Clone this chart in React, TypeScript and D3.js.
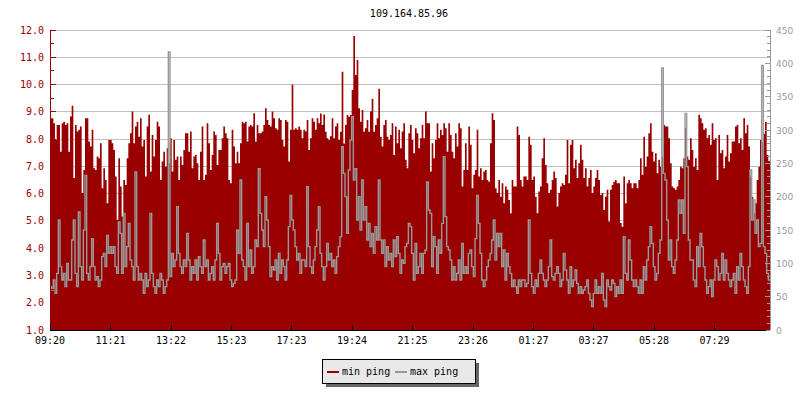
import * as d3 from 'd3';

// ping samples, oldest first (ms)
const minPing: number[] = [
  8.76, 8.76, 8.58, 7.97, 8.52, 8.52, 7.54, 8.58, 8.64, 8.52,
  8.58, 7.54, 8.83, 9.22, 6.57, 8.52, 8.28, 8.34, 8.46, 6.02,
  6.87, 8.76, 8.76, 7.91, 7.73, 8.34, 6.93, 6.87, 7.36, 7.30,
  7.85, 6.20, 6.93, 6.50, 5.65, 7.97, 7.97, 7.85, 7.60, 6.63,
  5.04, 7.30, 6.26, 5.16, 6.50, 6.32, 7.30, 7.85, 8.21, 9.01,
  7.85, 8.46, 8.64, 8.09, 8.76, 7.73, 7.97, 6.63, 8.46, 8.89,
  6.81, 8.15, 7.36, 7.97, 8.64, 8.46, 6.50, 7.18, 7.54, 6.99,
  7.66, 7.11, 8.03, 6.81, 7.97, 7.24, 7.36, 6.50, 7.36, 7.05,
  7.60, 8.21, 8.21, 7.54, 8.28, 6.93, 7.36, 7.42, 7.11, 6.50,
  7.54, 8.46, 6.50, 6.69, 8.58, 7.85, 6.87, 7.42, 8.28, 8.15,
  7.05, 7.60, 7.60, 8.03, 8.46, 8.21, 8.03, 6.50,
  6.38, 8.34, 7.73, 7.11, 7.54, 7.11, 7.85, 8.64, 8.58, 8.64,
  7.91, 8.46, 8.52, 8.46, 8.95, 7.91, 8.52, 8.21, 8.21, 8.28,
  8.52, 9.13, 8.70, 8.52, 8.46, 9.01, 8.76, 8.40, 8.34, 8.76,
  8.70, 7.97, 7.73, 8.70, 8.64, 7.18, 8.34, 9.99, 8.34, 8.40,
  8.34, 8.46, 8.34, 8.03, 8.34, 8.28, 8.70, 7.60, 8.03, 8.76,
  8.64, 8.34, 8.76, 8.58, 8.94, 8.52, 8.90, 8.27, 8.03, 7.97,
  8.10, 8.76, 8.03, 8.46, 8.58, 7.97, 8.27, 10.47, 7.84, 8.52,
  8.88, 8.82, 8.88, 9.80, 11.78, 10.35, 10.90, 9.13, 8.64, 9.07,
  8.27, 8.40, 8.70, 8.27, 9.01, 9.47, 8.27, 8.52, 8.76, 9.85,
  8.09, 7.73, 8.52, 8.70, 8.09, 7.97, 8.15, 8.58, 7.42, 8.46,
  7.85, 8.34, 7.66, 8.28, 8.58, 7.24, 6.93, 8.21,
  8.52, 7.97, 7.48, 8.40, 8.21, 7.66, 8.03, 8.52, 8.03, 9.01,
  8.58, 8.58, 6.81, 7.85, 7.30, 7.97, 8.58, 8.03, 8.34, 8.15,
  8.58, 8.40, 7.54, 8.58, 8.15, 7.54, 7.30, 8.21, 7.73, 8.58,
  8.40, 6.26, 6.87, 7.85, 6.87, 8.46, 7.79, 6.20, 6.69, 6.87,
  8.34, 6.63, 6.93, 6.50, 6.81, 6.87, 6.50, 6.44, 7.85, 8.95,
  8.70, 6.20, 6.02, 6.50, 5.89, 6.38, 5.65, 6.26, 6.14, 5.77,
  5.28, 6.50, 6.26, 6.26, 8.46, 8.15, 6.50, 6.26, 6.63, 6.63,
  6.50, 8.09, 7.79, 6.50, 6.63, 5.89, 5.28, 6.08, 6.26, 7.30,
  8.03, 7.05, 6.38, 6.02, 6.14, 6.50, 6.81, 6.57, 5.53, 6.02,
  6.26, 6.38, 6.32, 6.69, 7.97, 6.38, 7.79, 7.97, 6.93, 7.24,
  6.57, 7.11, 7.79, 7.24, 6.57, 6.93, 6.26, 6.57,
  6.87, 6.02, 6.26, 6.57, 6.87, 6.50, 5.95, 6.02, 5.40, 5.89,
  6.14, 4.98, 6.14, 6.32, 6.44, 6.50, 6.38, 6.38, 4.92, 4.79,
  6.63, 5.65, 6.38, 6.50, 6.38, 6.20, 6.38, 6.38, 6.20, 6.50,
  7.30, 6.69, 8.09, 6.99, 7.36, 8.21, 8.58, 7.54, 7.18, 7.48,
  6.75, 7.24, 6.99, 7.36, 8.52, 8.46, 8.46, 8.03, 7.11, 6.26,
  6.20, 6.14, 6.26, 6.50, 6.99, 6.93, 7.30, 8.40, 7.36, 7.24,
  8.03, 7.60, 6.99, 7.30, 6.87, 8.89, 8.76, 8.58, 8.34, 8.40,
  8.03, 8.15, 7.79, 8.58, 7.97, 8.03, 6.50, 8.15, 7.48, 7.60,
  6.93, 7.36, 8.15, 7.18, 7.48, 7.91, 7.91, 8.46, 8.52, 7.85,
  8.03, 7.60, 8.76, 8.21, 8.52, 7.73, 6.63, 5.89, 5.28, 5.65,
  6.50, 6.99, 7.97, 7.90, 8.20, 8.63, 7.42, 7.20
];

const maxPing: number[] = [
  65, 60, 75, 55, 85, 165, 95, 75, 85, 65,
  100, 75, 75, 135, 165, 85, 65, 177, 95, 75,
  150, 232, 85, 75, 95, 137, 95, 75, 80, 65,
  75, 110, 115, 95, 142, 115, 125, 115, 125, 95,
  85, 162, 145, 85, 175, 95, 125, 160, 105, 95,
  75, 237, 95, 75, 85, 75, 55, 85, 65, 75,
  175, 85, 65, 55, 75, 65, 85, 75, 55, 65,
  75, 417, 80, 115, 95, 105, 185, 115, 95, 85,
  105, 95, 145, 105, 75, 95, 85, 105, 75, 110,
  95, 85, 135, 95, 105, 75, 85, 95, 75, 105,
  160, 115, 75, 95, 100, 85, 95, 100,
  75, 65, 70, 75, 150, 115, 225, 105, 95, 75,
  160, 95, 120, 85, 95, 135, 125, 242, 175, 150,
  125, 200, 165, 125, 80, 95, 90, 105, 75, 115,
  85, 105, 95, 75, 105, 155, 202, 165, 150, 125,
  105, 115, 85, 105, 105, 95, 215, 125, 95, 85,
  105, 125, 150, 185, 115, 95, 75, 95, 130, 105,
  115, 95, 105, 85, 110, 125, 140, 275, 235, 200,
  145, 240, 285, 320, 225, 242, 165, 200, 150, 225,
  165, 185, 135, 160, 125, 145, 115, 155, 135, 225,
  135, 115, 135, 95, 125, 105, 115, 95, 135, 110,
  140, 115, 85, 105, 100, 125, 130, 160,
  155, 115, 75, 130, 85, 95, 115, 85, 115, 120,
  222, 180, 175, 95, 140, 125, 85, 135, 115, 160,
  260, 170, 125, 120, 105, 75, 95, 75, 85, 105,
  75, 130, 85, 95, 85, 115, 120, 95, 80, 137,
  202, 160, 115, 75, 65, 75, 95, 105, 115, 135,
  165, 105, 145, 125, 145, 95, 120, 75, 115, 95,
  85, 65, 75, 65, 55, 75, 65, 75, 75, 65,
  70, 165, 85, 65, 55, 75, 65, 85, 105, 85,
  75, 65, 75, 95, 135, 80, 75, 85, 95, 85,
  65, 75, 115, 90, 75, 55, 95, 65, 75, 90,
  70, 55, 65, 55, 60, 65, 75, 55,
  45, 35, 55, 75, 55, 65, 55, 85, 45, 35,
  75, 65, 60, 75, 70, 50, 65, 55, 75, 55,
  140, 85, 75, 135, 105, 75, 65, 75, 65, 55,
  75, 55, 95, 75, 105, 125, 155, 130, 95, 75,
  85, 115, 135, 393, 235, 225, 165, 105, 135, 95,
  85, 105, 135, 195, 175, 195, 145, 325, 245, 135,
  105, 105, 75, 65, 125, 95, 145, 125, 95, 75,
  55, 65, 75, 50, 75, 105, 95, 75, 85, 115,
  75, 105, 85, 75, 65, 75, 85, 55, 95, 75,
  115, 95, 75, 65, 55, 95, 240, 165, 195, 145,
  165, 125, 130, 397, 125, 115, 85, 75
];

const timeLabels = ['09:20', '11:21', '13:22', '15:23', '17:23', '19:24', '21:25', '23:26', '01:27', '03:27', '05:28', '07:29'];
const title = '109.164.85.96';
const seriesNames = ['min ping', 'max ping'];

const RED = '#990000';
const GREY = '#999999';
const MONO = '"DejaVu Sans Mono", monospace';

export default function App(): JSX.Element {
  const left = 50;
  const right = 770;
  const top = 30;
  const bottom = 330;
  const n = minPing.length;

  const x = d3.scaleLinear().domain([0, n]).range([left, right]);
  const yL = d3.scaleLinear().domain([1, 12]).range([bottom, top]);
  const yR = d3.scaleLinear().domain([0, 450]).range([bottom, top]);
  const t = d3.scaleLinear().domain([0, 1440]).range([left, right]);

  const start = 9 * 60 + 20;
  const tickMinutes = timeLabels.map((s) => {
    const [h, m] = s.split(':').map(Number);
    return (h * 60 + m - start + 1440) % 1440;
  });

  const minPts = [...minPing, minPing[n - 1]];
  const maxPts = [...maxPing, maxPing[n - 1]];

  const area = d3
    .area<number>()
    .x((_, i) => x(i))
    .y0(yL(1))
    .y1((d) => yL(d))
    .curve(d3.curveStepAfter);

  const line = d3
    .line<number>()
    .x((_, i) => x(i))
    .y((d) => yR(d))
    .curve(d3.curveStepAfter);

  const majorL = yL.ticks(11);
  const minorL = d3.range(1, 12.01, 0.5);
  const ticksR = d3.range(0, 451, 10);

  return (
    <svg
      xmlns="http://www.w3.org/2000/svg"
      width={800}
      height={400}
      style={{ position: 'absolute', left: 0, top: 0, background: '#fff' }}
    >
      <text x={409} y={17} fontFamily={MONO} fontSize={10} textAnchor="middle" fill="#000">
        {title}
      </text>

      {/* grid */}
      <g shapeRendering="crispEdges">
        {majorL.map((v) => (
          <line key={v} x1={left} x2={right} y1={yL(v)} y2={yL(v)} stroke="#c0c0c0" />
        ))}
      </g>

      <path d={area(minPts) as string} fill={RED} />
      <path d={line(maxPts) as string} fill="none" stroke={GREY} strokeWidth={1.4} strokeLinejoin="miter" />

      {/* left axis */}
      <g shapeRendering="crispEdges" stroke={RED}>
        <line x1={left} x2={left} y1={top} y2={bottom} />
        {minorL.map((v) => (
          <line key={v} x1={left} x2={left + (Number.isInteger(v) ? 6 : 4)} y1={yL(v)} y2={yL(v)} />
        ))}
      </g>
      {majorL.map((v) => (
        <text key={v} x={44} y={yL(v) + 3.5} fontFamily={MONO} fontSize={10} textAnchor="end" fill={RED}>
          {v.toFixed(1)}
        </text>
      ))}

      {/* right axis */}
      <g shapeRendering="crispEdges" stroke={GREY}>
        <line x1={right} x2={right} y1={top} y2={bottom} />
        {ticksR.map((v) => (
          <line key={v} x1={right - (v % 50 === 0 ? 5 : 3)} x2={right} y1={yR(v)} y2={yR(v)} />
        ))}
      </g>
      {ticksR
        .filter((v) => v % 50 === 0)
        .map((v) => (
          <text key={v} x={776} y={yR(v) + 3.5} fontFamily='"DejaVu Sans", sans-serif' fontSize={9} fill={GREY}>
            {v}
          </text>
        ))}

      {/* time axis */}
      <g shapeRendering="crispEdges" stroke="#000">
        <line x1={left} x2={766} y1={bottom} y2={bottom} />
        {tickMinutes.map((m, i) => (
          <line key={i} x1={t(m)} x2={t(m)} y1={bottom - 5} y2={bottom} />
        ))}
      </g>
      {tickMinutes.map((m, i) => (
        <text key={i} x={t(m)} y={344} fontFamily={MONO} fontSize={10} textAnchor="middle" fill="#000">
          {timeLabels[i]}
        </text>
      ))}

      {/* legend */}
      <g shapeRendering="crispEdges">
        <rect x={326} y={363} width={153} height={24} fill="#666" />
        <rect x={322.5} y={359.5} width={153} height={24} fill="#e8e8e8" stroke="#000" />
        <line x1={327} x2={339} y1={371.5} y2={371.5} stroke={RED} strokeWidth={2} />
        <line x1={395} x2={407} y1={371.5} y2={371.5} stroke={GREY} strokeWidth={2} />
      </g>
      <text x={342} y={375} fontFamily={MONO} fontSize={10} fill="#000">
        {seriesNames[0]}
      </text>
      <text x={410} y={375} fontFamily={MONO} fontSize={10} fill="#000">
        {seriesNames[1]}
      </text>
    </svg>
  );
}
